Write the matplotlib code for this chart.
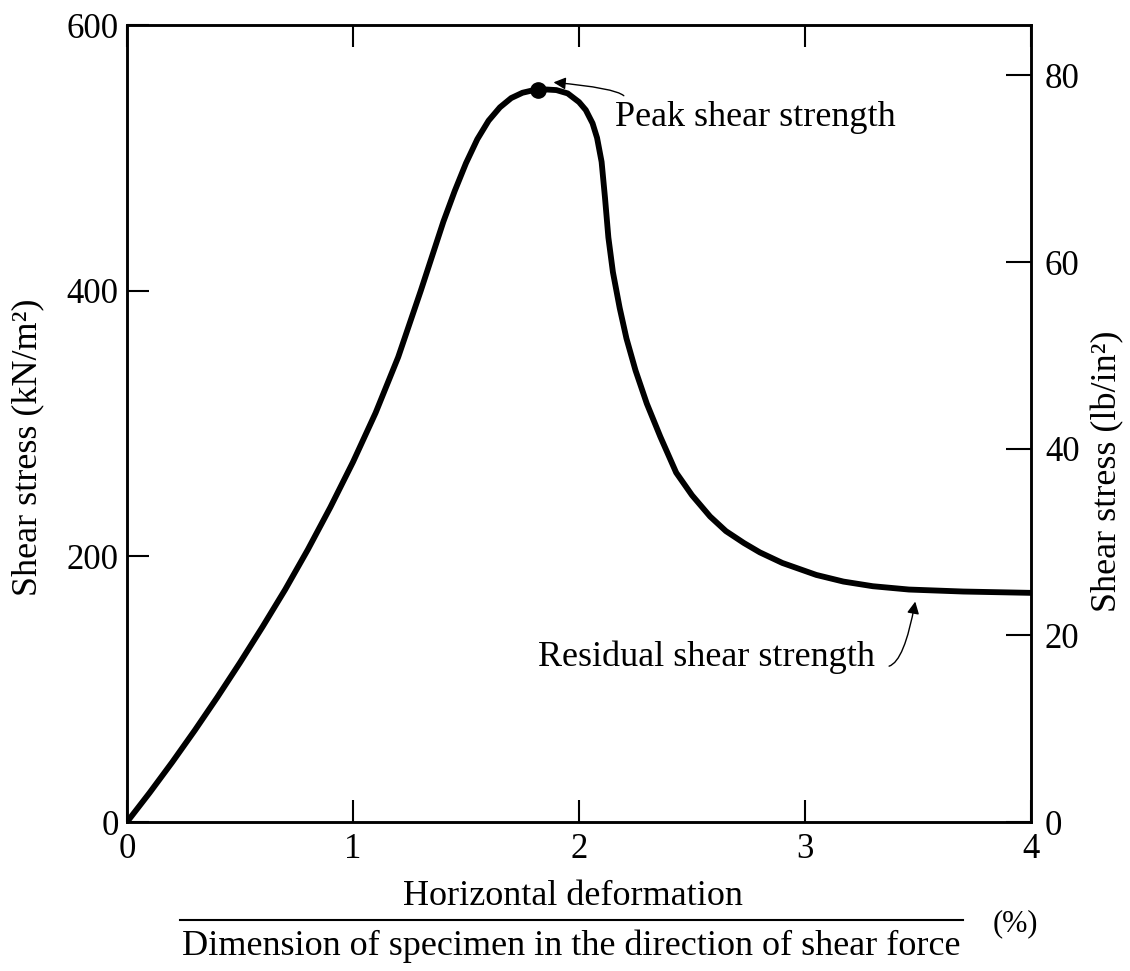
import matplotlib
matplotlib.use("Agg")
import matplotlib.pyplot as plt
from matplotlib.lines import Line2D

plt.rcParams['font.family'] = ['Liberation Serif', 'DejaVu Serif']

# Data (horizontal deformation %, shear stress kN/m^2)
deformation_pct = [0.0, 0.1, 0.2, 0.3, 0.4, 0.5, 0.6, 0.7, 0.8, 0.9, 1.0, 1.1,
                   1.2, 1.3, 1.35, 1.4, 1.45, 1.5, 1.55, 1.6, 1.65, 1.7, 1.75,
                   1.8, 1.85, 1.9, 1.95, 2.0, 2.03, 2.06, 2.08, 2.10, 2.115,
                   2.13, 2.15, 2.18, 2.21, 2.25, 2.3, 2.36, 2.43, 2.5, 2.58,
                   2.65, 2.73, 2.8, 2.9, 2.95, 3.05, 3.17, 3.3, 3.46, 3.7, 4.0]
shear_stress_kN = [0, 22, 45, 69, 94, 120, 147, 175, 205, 237, 271, 308,
                   350, 400, 426, 452, 475, 496, 514, 528, 538, 545, 549,
                   551, 551.5, 551, 548.5, 542, 536, 526, 515, 497, 470,
                   440, 414, 387, 364, 340, 315, 290, 263, 246, 230,
                   219, 210, 203, 195, 192, 186, 181, 177.5, 175, 173.5, 172.5]
peak_point = (1.82, 551)

x_ticks = [0, 1, 2, 3, 4]
y_ticks_kN = [0, 200, 400, 600]
y_ticks_psi = [0, 20, 40, 60, 80]
psi_top = 85.4

fig = plt.figure(figsize=(11.30, 9.71), dpi=100)
ax = fig.add_axes([127/1130, 1-822/971, (1031-127)/1130, (822-25)/971])

ax.plot(deformation_pct, shear_stress_kN, color='black', lw=4.2,
        solid_joinstyle='round', solid_capstyle='round')
ax.plot([peak_point[0]], [peak_point[1]], 'o', color='black', ms=11)

ax.set_xlim(0, 4)
ax.set_ylim(0, 600)
ax.set_xticks(x_ticks)
ax.set_yticks(y_ticks_kN)
ax.set_xticklabels([str(v) for v in x_ticks])
ax.set_yticklabels([str(v) for v in y_ticks_kN])
ax.tick_params(axis='both', direction='in', length=16, width=1.5, labelsize=25,
               colors='black')
ax.tick_params(axis='x', pad=8, top=True)
ax.tick_params(axis='y', pad=6)
for s in ax.spines.values():
    s.set_linewidth(1.8)

ax.set_ylabel('Shear stress (kN/m²)', fontsize=26)
ax.yaxis.set_label_coords(-0.092, 0.47)

ax2 = ax.twinx()
ax2.set_ylim(0, psi_top)
ax2.set_yticks(y_ticks_psi)
ax2.set_yticklabels([str(v) for v in y_ticks_psi])
ax2.tick_params(axis='y', direction='in', length=18, width=1.5, labelsize=25, pad=10)
ax2.set_ylabel('Shear stress (lb/in²)', fontsize=26)
ax2.yaxis.set_label_coords(1.066, 0.44)
for s in ax2.spines.values():
    s.set_linewidth(1.8)

# Annotations
ax.text(2.16, 530, 'Peak shear strength', fontsize=26, ha='left', va='center')
ax.annotate('', xy=(1.875, 557), xytext=(2.205, 545),
            arrowprops=dict(arrowstyle='-|>', color='black', lw=1.0,
                            mutation_scale=18,
                            connectionstyle='angle3,angleA=100,angleB=-5'))
ax.text(3.31, 124, 'Residual shear strength', fontsize=26, ha='right', va='center')
ax.annotate('', xy=(3.49, 168), xytext=(3.36, 117),
            arrowprops=dict(arrowstyle='-|>', color='black', lw=1.0,
                            mutation_scale=18,
                            connectionstyle='angle3,angleA=0,angleB=80'))

# Fraction-style x-axis label
fig.text(573/1130, 1-896/971, 'Horizontal deformation', fontsize=26,
         ha='center', va='center')
fig.add_artist(Line2D([180/1130, 963/1130], [1-920/971, 1-920/971],
                      color='black', lw=1.5, transform=fig.transFigure))
fig.text(1015/1130, 1-924/971, '(%)', fontsize=22, ha='center', va='center')
fig.text(571/1130, 1-946/971, 'Dimension of specimen in the direction of shear force',
         fontsize=26, ha='center', va='center')

fig.savefig('out.png', dpi=100, facecolor='white')
